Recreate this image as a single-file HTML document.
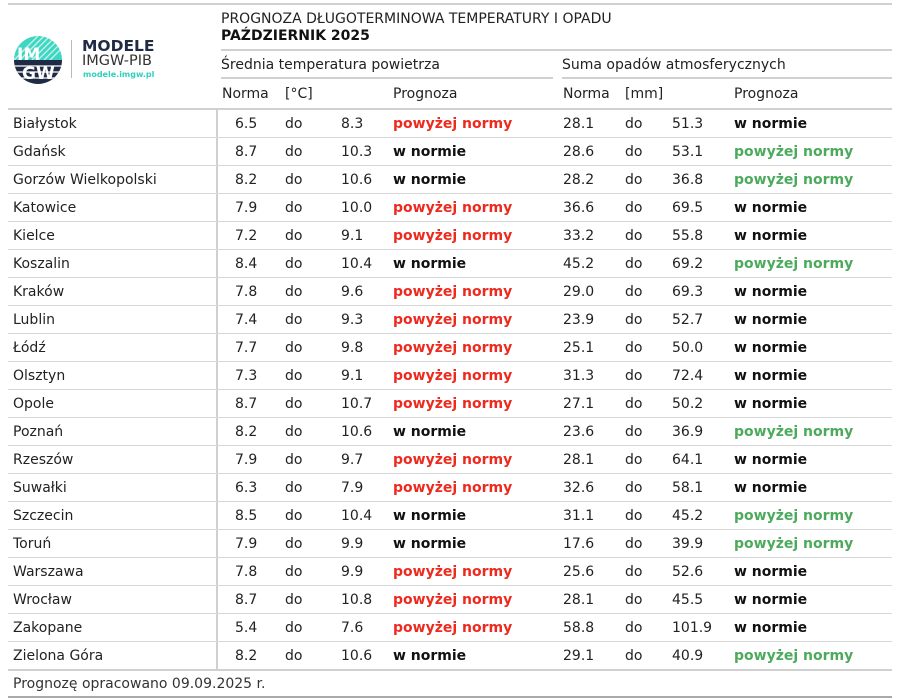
<!DOCTYPE html>
<html><head><meta charset="utf-8">
<style>
body{margin:0;width:900px;height:700px;background:#fff;font-family:"DejaVu Sans","Liberation Sans",sans-serif;font-size:14px;color:#222;position:relative;overflow:hidden}
.a{position:absolute;white-space:nowrap}
.h{position:absolute;height:2px;background:#d0d0d0}
.r{position:absolute;left:0;width:900px;height:28px}
.r span{position:absolute;top:7px;white-space:nowrap}
.r .c{left:13px}.r .n1{left:235px}.r .d1{left:285px}.r .v1{left:341px}.r .p1{left:393px}
.r .n2{left:563px}.r .d2{left:625px}.r .v2{left:672px}.r .p2{left:734px}
.R{color:#ee2a1f;font-weight:bold}.B{color:#111;font-weight:bold}.G{color:#4caa5c;font-weight:bold}
.sep{position:absolute;left:8px;width:884px;height:1px;background:#d8d8d8}
</style></head><body>
<div class="h" style="left:8px;top:3px;width:884px"></div>
<svg class="a" style="left:14px;top:36px" width="48" height="48" viewBox="0 0 48 48">
<defs><clipPath id="cc"><circle cx="24" cy="24" r="24"/></clipPath></defs>
<g clip-path="url(#cc)">
<rect width="48" height="24" fill="#3fd6c2"/>
<g stroke="#fff" stroke-width="1.3" opacity="0.7"><line x1="0" y1="24" x2="24" y2="0"/><line x1="6" y1="24" x2="30" y2="0"/><line x1="12" y1="24" x2="36" y2="0"/><line x1="18" y1="24" x2="42" y2="0"/><line x1="24" y1="24" x2="48" y2="0"/><line x1="30" y1="24" x2="54" y2="0"/><line x1="36" y1="24" x2="60" y2="0"/></g>
<rect y="24" width="48" height="24" fill="#1f2a44"/>
<g stroke="#fff" stroke-width="1.2"><line x1="0" y1="30" x2="48" y2="30"/><line x1="0" y1="36" x2="48" y2="36"/><line x1="0" y1="42" x2="48" y2="42"/></g>
<text x="3" y="24" font-family="DejaVu Sans" font-weight="bold" font-size="17" fill="#fff">IM</text>
<text x="8" y="43" font-family="DejaVu Sans" font-weight="bold" font-size="17" fill="#fff">GW</text>
</g></svg>
<div class="a" style="left:71px;top:40px;width:1px;height:38px;background:#bbb"></div>
<div class="a" style="left:82px;top:37px;font-size:15.5px;font-weight:bold;color:#1f2a44">MODELE</div>
<div class="a" style="left:82px;top:53px;font-size:14.5px;color:#333">IMGW-PIB</div>
<div class="a" style="left:83px;top:70px;font-size:8px;font-weight:bold;color:#2fd0bd">modele.imgw.pl</div>
<div class="a" style="left:221px;top:11px">PROGNOZA DŁUGOTERMINOWA TEMPERATURY I OPADU</div>
<div class="a" style="left:221px;top:28px;font-weight:bold;color:#111">PAŹDZIERNIK 2025</div>
<div class="h" style="left:221px;top:49px;width:671px"></div>
<div class="a" style="left:221px;top:57px">Średnia temperatura powietrza</div>
<div class="a" style="left:562px;top:57px">Suma opadów atmosferycznych</div>
<div class="h" style="left:221px;top:77px;width:332px"></div>
<div class="h" style="left:562px;top:77px;width:330px"></div>
<div class="a" style="left:222px;top:86px">Norma</div>
<div class="a" style="left:285px;top:86px">[°C]</div>
<div class="a" style="left:393px;top:86px">Prognoza</div>
<div class="a" style="left:563px;top:86px">Norma</div>
<div class="a" style="left:625px;top:86px">[mm]</div>
<div class="a" style="left:734px;top:86px">Prognoza</div>
<div class="h" style="left:8px;top:108px;width:884px"></div>
<div class="a" style="left:216px;top:110px;width:2px;height:559px;background:#d0d0d0"></div>

<div class="r" style="top:109px"><span class="c">Białystok</span><span class="n1">6.5</span><span class="d1">do</span><span class="v1">8.3</span><span class="p1 R">powyżej normy</span><span class="n2">28.1</span><span class="d2">do</span><span class="v2">51.3</span><span class="p2 B">w normie</span></div>
<div class="sep" style="top:137px"></div>
<div class="r" style="top:137px"><span class="c">Gdańsk</span><span class="n1">8.7</span><span class="d1">do</span><span class="v1">10.3</span><span class="p1 B">w normie</span><span class="n2">28.6</span><span class="d2">do</span><span class="v2">53.1</span><span class="p2 G">powyżej normy</span></div>
<div class="sep" style="top:165px"></div>
<div class="r" style="top:165px"><span class="c">Gorzów Wielkopolski</span><span class="n1">8.2</span><span class="d1">do</span><span class="v1">10.6</span><span class="p1 B">w normie</span><span class="n2">28.2</span><span class="d2">do</span><span class="v2">36.8</span><span class="p2 G">powyżej normy</span></div>
<div class="sep" style="top:193px"></div>
<div class="r" style="top:193px"><span class="c">Katowice</span><span class="n1">7.9</span><span class="d1">do</span><span class="v1">10.0</span><span class="p1 R">powyżej normy</span><span class="n2">36.6</span><span class="d2">do</span><span class="v2">69.5</span><span class="p2 B">w normie</span></div>
<div class="sep" style="top:221px"></div>
<div class="r" style="top:221px"><span class="c">Kielce</span><span class="n1">7.2</span><span class="d1">do</span><span class="v1">9.1</span><span class="p1 R">powyżej normy</span><span class="n2">33.2</span><span class="d2">do</span><span class="v2">55.8</span><span class="p2 B">w normie</span></div>
<div class="sep" style="top:249px"></div>
<div class="r" style="top:249px"><span class="c">Koszalin</span><span class="n1">8.4</span><span class="d1">do</span><span class="v1">10.4</span><span class="p1 B">w normie</span><span class="n2">45.2</span><span class="d2">do</span><span class="v2">69.2</span><span class="p2 G">powyżej normy</span></div>
<div class="sep" style="top:277px"></div>
<div class="r" style="top:277px"><span class="c">Kraków</span><span class="n1">7.8</span><span class="d1">do</span><span class="v1">9.6</span><span class="p1 R">powyżej normy</span><span class="n2">29.0</span><span class="d2">do</span><span class="v2">69.3</span><span class="p2 B">w normie</span></div>
<div class="sep" style="top:305px"></div>
<div class="r" style="top:305px"><span class="c">Lublin</span><span class="n1">7.4</span><span class="d1">do</span><span class="v1">9.3</span><span class="p1 R">powyżej normy</span><span class="n2">23.9</span><span class="d2">do</span><span class="v2">52.7</span><span class="p2 B">w normie</span></div>
<div class="sep" style="top:333px"></div>
<div class="r" style="top:333px"><span class="c">Łódź</span><span class="n1">7.7</span><span class="d1">do</span><span class="v1">9.8</span><span class="p1 R">powyżej normy</span><span class="n2">25.1</span><span class="d2">do</span><span class="v2">50.0</span><span class="p2 B">w normie</span></div>
<div class="sep" style="top:361px"></div>
<div class="r" style="top:361px"><span class="c">Olsztyn</span><span class="n1">7.3</span><span class="d1">do</span><span class="v1">9.1</span><span class="p1 R">powyżej normy</span><span class="n2">31.3</span><span class="d2">do</span><span class="v2">72.4</span><span class="p2 B">w normie</span></div>
<div class="sep" style="top:389px"></div>
<div class="r" style="top:389px"><span class="c">Opole</span><span class="n1">8.7</span><span class="d1">do</span><span class="v1">10.7</span><span class="p1 R">powyżej normy</span><span class="n2">27.1</span><span class="d2">do</span><span class="v2">50.2</span><span class="p2 B">w normie</span></div>
<div class="sep" style="top:417px"></div>
<div class="r" style="top:417px"><span class="c">Poznań</span><span class="n1">8.2</span><span class="d1">do</span><span class="v1">10.6</span><span class="p1 B">w normie</span><span class="n2">23.6</span><span class="d2">do</span><span class="v2">36.9</span><span class="p2 G">powyżej normy</span></div>
<div class="sep" style="top:445px"></div>
<div class="r" style="top:445px"><span class="c">Rzeszów</span><span class="n1">7.9</span><span class="d1">do</span><span class="v1">9.7</span><span class="p1 R">powyżej normy</span><span class="n2">28.1</span><span class="d2">do</span><span class="v2">64.1</span><span class="p2 B">w normie</span></div>
<div class="sep" style="top:473px"></div>
<div class="r" style="top:473px"><span class="c">Suwałki</span><span class="n1">6.3</span><span class="d1">do</span><span class="v1">7.9</span><span class="p1 R">powyżej normy</span><span class="n2">32.6</span><span class="d2">do</span><span class="v2">58.1</span><span class="p2 B">w normie</span></div>
<div class="sep" style="top:501px"></div>
<div class="r" style="top:501px"><span class="c">Szczecin</span><span class="n1">8.5</span><span class="d1">do</span><span class="v1">10.4</span><span class="p1 B">w normie</span><span class="n2">31.1</span><span class="d2">do</span><span class="v2">45.2</span><span class="p2 G">powyżej normy</span></div>
<div class="sep" style="top:529px"></div>
<div class="r" style="top:529px"><span class="c">Toruń</span><span class="n1">7.9</span><span class="d1">do</span><span class="v1">9.9</span><span class="p1 B">w normie</span><span class="n2">17.6</span><span class="d2">do</span><span class="v2">39.9</span><span class="p2 G">powyżej normy</span></div>
<div class="sep" style="top:557px"></div>
<div class="r" style="top:557px"><span class="c">Warszawa</span><span class="n1">7.8</span><span class="d1">do</span><span class="v1">9.9</span><span class="p1 R">powyżej normy</span><span class="n2">25.6</span><span class="d2">do</span><span class="v2">52.6</span><span class="p2 B">w normie</span></div>
<div class="sep" style="top:585px"></div>
<div class="r" style="top:585px"><span class="c">Wrocław</span><span class="n1">8.7</span><span class="d1">do</span><span class="v1">10.8</span><span class="p1 R">powyżej normy</span><span class="n2">28.1</span><span class="d2">do</span><span class="v2">45.5</span><span class="p2 B">w normie</span></div>
<div class="sep" style="top:613px"></div>
<div class="r" style="top:613px"><span class="c">Zakopane</span><span class="n1">5.4</span><span class="d1">do</span><span class="v1">7.6</span><span class="p1 R">powyżej normy</span><span class="n2">58.8</span><span class="d2">do</span><span class="v2">101.9</span><span class="p2 B">w normie</span></div>
<div class="sep" style="top:641px"></div>
<div class="r" style="top:641px"><span class="c">Zielona Góra</span><span class="n1">8.2</span><span class="d1">do</span><span class="v1">10.6</span><span class="p1 B">w normie</span><span class="n2">29.1</span><span class="d2">do</span><span class="v2">40.9</span><span class="p2 G">powyżej normy</span></div>
<div class="h" style="left:8px;top:669px;width:884px"></div>
<div class="a" style="left:13px;top:676px;color:#333">Prognozę opracowano 09.09.2025 r.</div>
<div class="h" style="left:8px;top:696px;width:884px;background:#aaa"></div>
</body></html>
